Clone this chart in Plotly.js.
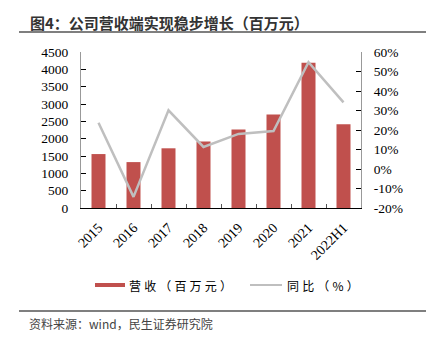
<!DOCTYPE html>
<html><head><meta charset="utf-8">
<script src="https://cdn.plot.ly/plotly-3.0.1.min.js"></script>
<style>html,body{margin:0;padding:0;background:#fff;}#chart{width:431px;height:343px;}</style>
</head><body><div id="chart"></div>
<script>
const categories = ["2015","2016","2017","2018","2019","2020","2021","2022H1"];
const revenue = [1556, 1324, 1722, 1916, 2265, 2700, 4190, 2419];
const yoy = [23.7, -14.3, 30.1, 11.3, 18.0, 19.5, 54.8, 34.2];
const yLeftTicks = [0,500,1000,1500,2000,2500,3000,3500,4000,4500];
const yRightTicks = [-20,-10,0,10,20,30,40,50,60];

const tickFont = {family: "Liberation Serif, Times New Roman, serif", size: 13.5, color: "#000"};
const cjk = "Noto Sans CJK SC, sans-serif";
const sp = s => s.split("").join("\u2009\u200A");

const traces = [
  {type:"bar", x: categories, y: revenue, name:"营收（百万元）", marker:{color:"#C0504D"}, width:0.4, yaxis:"y", showlegend:false},
  {type:"scatter", mode:"lines", x: categories, y: yoy, name:"同比（%）", line:{color:"#BFBFBF", width:2.5}, yaxis:"y2", showlegend:false}
];

const L = 81, R = 361, T = 52, B = 208;
const W = R - L, H = B - T;
const px = x => (x - L) / W;
const py = y => (B - y) / H;

const layout = {
  width:431, height:343,
  margin:{l:L, r:431-R, t:T, b:343-B},
  paper_bgcolor:"#fff", plot_bgcolor:"#fff",
  xaxis:{type:"category", tickangle:-45, tickfont:{...tickFont, size:14}, showline:true, linecolor:"#000", linewidth:1,
    ticks:"inside", ticklen:4, tickcolor:"#555", tickson:"boundaries", showgrid:false, zeroline:false, ticklabelstandoff:5},
  yaxis:{range:[0,4500], tickvals:yLeftTicks, ticktext:yLeftTicks.map(String), tickfont:tickFont, showline:true, linecolor:"#999",
    ticks:"inside", ticklen:5, tickcolor:"#000", showgrid:false, zeroline:false, ticklabelstandoff:9},
  yaxis2:{range:[-20,60], overlaying:"y", side:"right", tickvals:yRightTicks, ticktext:yRightTicks.map(v=>v+"%"), tickfont:tickFont,
    showline:true, linecolor:"#999", ticks:"inside", ticklen:5, tickcolor:"#000", showgrid:false, zeroline:false, ticklabelstandoff:9},
  shapes:[
    {type:"line", xref:"paper", yref:"paper", x0:px(19), x1:px(426), y0:py(32), y1:py(32), line:{color:"#555", width:1.5}},
    {type:"line", xref:"paper", yref:"paper", x0:px(19), x1:px(426), y0:py(311), y1:py(311), line:{color:"#555", width:1.5}},
    {type:"rect", xref:"paper", yref:"paper", x0:px(95), x1:px(125), y0:py(287), y1:py(283), fillcolor:"#C0504D", line:{width:0}},
    {type:"line", xref:"paper", yref:"paper", x0:px(250), x1:px(282), y0:py(285), y1:py(285), line:{color:"#BFBFBF", width:2}}
  ],
  annotations:[
    {text:"<b>图4：公司营收端实现稳步增长（百万元）</b>", xref:"paper", yref:"paper", x:px(28), y:py(22), xanchor:"left", yanchor:"middle", showarrow:false, font:{family:cjk, size:15, color:"#333"}},
    {text:sp("营收（百万元）"), xref:"paper", yref:"paper", x:px(127), y:py(285), xanchor:"left", yanchor:"middle", showarrow:false, font:{family:cjk, size:12, color:"#000"}},
    {text:sp("同比（%）"), xref:"paper", yref:"paper", x:px(285), y:py(285), xanchor:"left", yanchor:"middle", showarrow:false, font:{family:cjk, size:12, color:"#000"}},
    {text:"资料来源：wind，民生证券研究院", xref:"paper", yref:"paper", x:px(27), y:py(323), xanchor:"left", yanchor:"middle", showarrow:false, font:{family:cjk, size:12, color:"#444"}}
  ]
};
Plotly.newPlot("chart", traces, layout, {displayModeBar:false, staticPlot:true});
</script></body></html>
